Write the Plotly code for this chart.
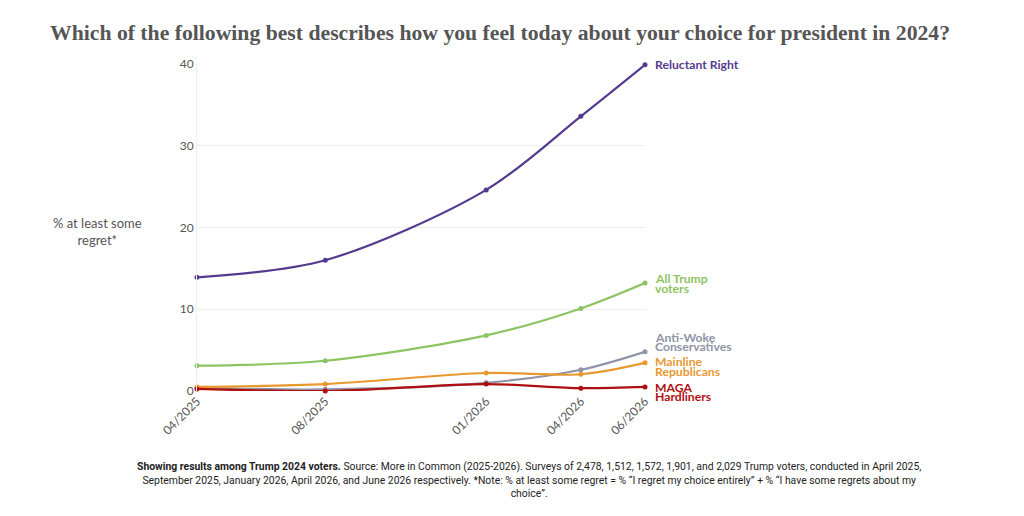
import plotly.graph_objects as go

dates = ["2025-04-01", "2025-08-01", "2026-01-01", "2026-04-01", "2026-06-01"]
tick_labels = ["04/2025", "08/2025", "01/2026", "04/2026", "06/2026"]

series_names = ["Reluctant Right", "All Trump voters", "Anti-Woke Conservatives",
                "Mainline Republicans", "MAGA Hardliners"]
reluctant_right = [13.9, 16.0, 24.6, 33.6, 39.9]
all_trump = [3.1, 3.7, 6.8, 10.1, 13.2]
anti_woke = [0.4, 0.2, 1.0, 2.6, 4.8]
mainline = [0.5, 0.85, 2.2, 2.05, 3.45]
maga = [0.25, 0.0, 0.85, 0.35, 0.5]

# end labels: (text lines, anchor value, pixel offsets of each line)
label_lines = [["Reluctant Right"], ["All Trump", "voters"], ["Anti-Woke", "Conservatives"],
               ["Mainline", "Republicans"], ["MAGA", "Hardliners"]]
label_anchor = [39.9, 13.2, 6.0, 3.1, 0.0]
label_offsets = [[0], [4.5, -5.5], [4.5, -5], [4, -6], [3.3, -5.7]]

values = [reluctant_right, all_trump, anti_woke, mainline, maga]
colors = ["#553a8e", "#8cc462", "#8e93a5", "#e8982f", "#b00f12"]

fig = go.Figure()
for name, vals, col in zip(series_names, values, colors):
    fig.add_trace(go.Scatter(
        x=dates, y=vals, name=name, mode="lines+markers",
        line=dict(color=col, width=2.2, shape="spline", smoothing=0.9),
        marker=dict(color=col, size=5), cliponaxis=False,
    ))

for lines, ly, offs, col in zip(label_lines, label_anchor, label_offsets, colors):
    for txt, off in zip(lines, offs):
        fig.add_annotation(
            x=dates[-1], y=ly, xref="x", yref="y", text="<b>" + txt + "</b>",
            showarrow=False, xanchor="left", yanchor="middle", xshift=8, yshift=off,
            align="left", font=dict(family="Lato", size=12.2, color=col),
        )

fig.add_annotation(
    xref="paper", yref="paper", x=-0.223, y=0.489, xanchor="center", yanchor="middle",
    text="% at least some<br>regret*", showarrow=False, align="center",
    font=dict(family="Lato", size=13, color="#555555"),
)

fig.add_annotation(
    xref="paper", yref="paper", x=0.74, y=-0.205, xanchor="center", yanchor="top",
    showarrow=False, align="center",
    text=("<b>Showing results among Trump 2024 voters.</b> Source: More in Common (2025-2026). "
          "Surveys of 2,478, 1,512, 1,572, 1,901, and 2,029 Trump voters, conducted in April 2025,<br>"
          "September 2025, January 2026, April 2026, and June 2026 respectively. *Note: % at least some "
          "regret = % \u201cI regret my choice entirely\u201d + % \u201cI have some regrets about my<br>choice\u201d."),
    font=dict(family="Roboto", size=10.4, color="#222222"),
)

fig.update_layout(
    width=1024, height=516,
    paper_bgcolor="white", plot_bgcolor="white",
    margin=dict(l=189, r=387, t=56, b=133),
    showlegend=False,
    title=dict(
        text="<b>Which of the following best describes how you feel today about your choice for president in 2024?</b>",
        x=0.4805, xref="container", xanchor="center", y=0.9535, yref="container", yanchor="middle",
        font=dict(family="Liberation Serif", size=21.7, color="#555555"),
    ),
)
fig.update_xaxes(
    type="date", range=[dates[0], dates[-1]],
    tickvals=dates, ticktext=tick_labels, tickangle=-45,
    showgrid=False, showline=False, zeroline=False,
    tickfont=dict(family="Lato", size=12, color="#555555"), ticks="",
)
fig.update_yaxes(
    range=[0, 40], tickvals=[0, 10, 20, 30, 40],
    showgrid=True, gridcolor="#eeeeee", zeroline=False,
    showline=True, linecolor="#eeeeee",
    tickfont=dict(family="Lato", size=12, color="#555555"), ticks="",
)
fig.write_html("out.html")
